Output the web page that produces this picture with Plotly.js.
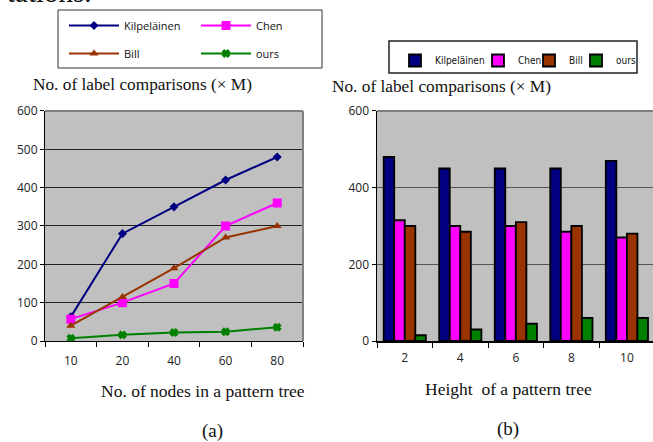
<!DOCTYPE html>
<html>
<head>
<meta charset="utf-8">
<script src="https://cdn.plot.ly/plotly-3.0.1.min.js"></script>
<style>html,body{margin:0;padding:0;background:#fff}#chart{width:653px;height:442px}</style>
</head>
<body>
<div id="chart"></div>
<script>
// ---- data ----
var nodeCats = ['10', '20', '40', '60', '80'];
var heightCats = ['2', '4', '6', '8', '10'];
var seriesNames = ['Kilpeläinen', 'Chen', 'Bill', 'ours'];
var nodesKilpelainen = [63, 280, 350, 420, 480];
var nodesChen = [57, 100, 150, 300, 360];
var nodesBill = [40, 115, 190, 270, 300];
var nodesOurs = [7, 16, 22, 24, 36];
var heightKilpelainen = [480, 450, 450, 450, 470];
var heightChen = [315, 300, 300, 285, 270];
var heightBill = [300, 285, 310, 300, 280];
var heightOurs = [15, 30, 45, 60, 60];

var colors = ['#000080', '#FF00FF', '#993300', '#008000'];
var symbols = ['diamond', 'square', 'triangle-up', 'x'];
var msizes = [7, 9, 8, 6];
var W = 653, H = 442;
function px(x) { return x / W; }
function py(y) { return 1 - y / H; }

var nodeSeries = [nodesKilpelainen, nodesChen, nodesBill, nodesOurs];
var heightSeries = [heightKilpelainen, heightChen, heightBill, heightOurs];
var lineLegends = ['legend', 'legend2', 'legend', 'legend2'];
var barLegends = ['legend3', 'legend4', 'legend5', 'legend6'];

var traces = [];
nodeSeries.forEach(function (vals, i) {
  traces.push({
    type: 'scatter', mode: 'lines+markers', name: seriesNames[i],
    x: nodeCats, y: vals, xaxis: 'x', yaxis: 'y',
    line: {color: colors[i], width: 2},
    marker: {color: colors[i], symbol: symbols[i], size: msizes[i], line: {color: colors[i], width: i === 3 ? 1.5 : 0}},
    legend: lineLegends[i], legendgroup: 'g' + i
  });
});
heightSeries.forEach(function (vals, i) {
  traces.push({
    type: 'bar', name: seriesNames[i], x: heightCats, y: vals, xaxis: 'x2', yaxis: 'y2',
    marker: {color: colors[i], line: {color: '#000', width: 1.8}},
    legend: barLegends[i]
  });
});

var tickFont = {family: 'Open Sans, Liberation Sans, sans-serif', size: 12, color: '#222'};
var serif = 'Liberation Serif, DejaVu Serif, serif';
var ydom = [0.2285, 0.7489];
var lineLegFont = {family: 'Open Sans, Liberation Sans, sans-serif', size: 11, color: '#111'};
var barLegFont = {family: 'DejaVu Sans Condensed, Liberation Sans Narrow, Liberation Sans, sans-serif', size: 10, color: '#111'};
function lineLegend(x) {
  return {x: px(x), y: py(11), xanchor: 'left', yanchor: 'top', orientation: 'v',
    bgcolor: 'rgba(0,0,0,0)', borderwidth: 0, tracegroupgap: 9, itemwidth: 50, font: lineLegFont};
}
function barLegend(x) {
  return {x: px(x), y: py(46), xanchor: 'left', yanchor: 'top', orientation: 'v',
    bgcolor: 'rgba(0,0,0,0)', borderwidth: 0, itemwidth: 30, font: barLegFont};
}

var layout = {
  width: W, height: H,
  margin: {l: 0, r: 0, t: 0, b: 0, autoexpand: false},
  paper_bgcolor: '#fff', plot_bgcolor: '#C0C0C0',
  showlegend: true,
  barmode: 'group', bargap: 0.24, bargroupgap: 0,
  xaxis: {domain: [px(45), px(303)], type: 'category', anchor: 'y', range: [-0.5, 4.5],
    showline: true, linecolor: '#000', linewidth: 1, ticks: 'outside', tickson: 'boundaries',
    ticklen: 5, tickcolor: '#000', showgrid: false, zeroline: false, tickfont: tickFont,
    ticklabelstandoff: 9, fixedrange: true},
  yaxis: {domain: ydom, anchor: 'x', range: [0, 600], dtick: 100, showline: true, linecolor: '#000',
    linewidth: 1, ticks: 'outside', ticklen: 4, tickcolor: '#000', gridcolor: '#222', gridwidth: 1,
    zeroline: false, tickfont: tickFont, fixedrange: true},
  xaxis2: {domain: [px(377), 1], type: 'category', anchor: 'y2', range: [-0.5, 4.47],
    showline: true, linecolor: '#000', linewidth: 1.5, ticks: 'outside', tickson: 'boundaries',
    ticklen: 5, tickcolor: '#000', showgrid: false, zeroline: false, tickfont: tickFont,
    ticklabelstandoff: 5, fixedrange: true},
  yaxis2: {domain: ydom, anchor: 'x2', range: [0, 600], dtick: 200, showline: true, linecolor: '#000',
    linewidth: 1.5, ticks: 'outside', ticklen: 4, tickcolor: '#000', gridcolor: '#555', gridwidth: 1,
    zeroline: false, tickfont: tickFont, fixedrange: true},
  legend: lineLegend(64),
  legend2: lineLegend(196),
  legend3: barLegend(395),
  legend4: barLegend(478),
  legend5: barLegend(529),
  legend6: barLegend(576),
  shapes: [
    {type: 'rect', xref: 'paper', yref: 'paper', x0: px(58), x1: px(322), y0: py(68), y1: py(10), line: {color: '#333', width: 1}},
    {type: 'rect', xref: 'paper', yref: 'paper', x0: px(389), x1: px(637), y0: py(73), y1: py(41), line: {color: '#222', width: 1.5}},
    {type: 'line', xref: 'x domain', yref: 'y domain', x0: 0, x1: 1, y0: 1, y1: 1, line: {color: '#808080', width: 2}, layer: 'above'},
    {type: 'line', xref: 'x domain', yref: 'y domain', x0: 1, x1: 1, y0: 0, y1: 1, line: {color: '#808080', width: 2}, layer: 'above'},
    {type: 'line', xref: 'x2 domain', yref: 'y2 domain', x0: 0, x1: 1, y0: 1, y1: 1, line: {color: '#808080', width: 2}, layer: 'above'}
  ],
  annotations: [
    {text: 'tations.', xref: 'paper', yref: 'paper', x: px(5), y: py(9.5), xanchor: 'left', yanchor: 'bottom', showarrow: false,
      font: {family: serif, size: 29, color: '#111'}},
    {text: 'No. of label comparisons (× M)', xref: 'paper', yref: 'paper', x: px(142.5), y: py(85), xanchor: 'center', yanchor: 'middle', showarrow: false,
      font: {family: serif, size: 17.3, color: '#111'}},
    {text: 'No. of label comparisons (× M)', xref: 'paper', yref: 'paper', x: px(441), y: py(87), xanchor: 'center', yanchor: 'middle', showarrow: false,
      font: {family: serif, size: 17.3, color: '#111'}},
    {text: 'No. of nodes in a pattern tree', xref: 'paper', yref: 'paper', x: px(203), y: py(391), xanchor: 'center', yanchor: 'middle', showarrow: false,
      font: {family: serif, size: 17.5, color: '#111'}},
    {text: 'Height&nbsp; of a pattern tree', xref: 'paper', yref: 'paper', x: px(508), y: py(389), xanchor: 'center', yanchor: 'middle', showarrow: false,
      font: {family: serif, size: 17.5, color: '#111'}},
    {text: '(a)', xref: 'paper', yref: 'paper', x: px(212), y: py(431), xanchor: 'center', yanchor: 'middle', showarrow: false,
      font: {family: serif, size: 19, color: '#111'}},
    {text: '(b)', xref: 'paper', yref: 'paper', x: px(508), y: py(429), xanchor: 'center', yanchor: 'middle', showarrow: false,
      font: {family: serif, size: 19, color: '#111'}}
  ]
};

Plotly.newPlot('chart', traces, layout, {displayModeBar: false, staticPlot: true});
</script>
</body>
</html>
